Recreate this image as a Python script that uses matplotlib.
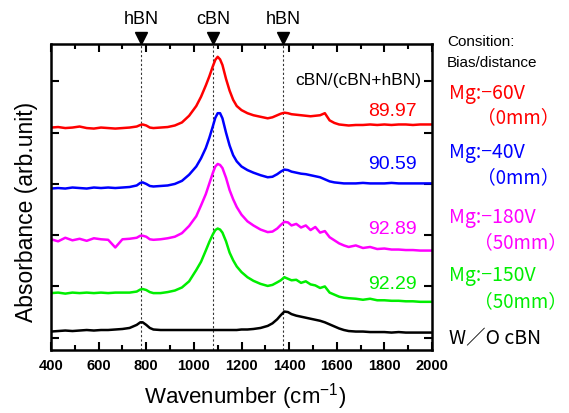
import matplotlib
matplotlib.use('Agg')
import matplotlib.pyplot as plt
import matplotlib.transforms as mtransforms
from matplotlib.ticker import MultipleLocator

plt.rcParams['font.family'] = ['Liberation Sans', 'DejaVu Sans']
plt.rcParams['mathtext.default'] = 'regular'

# wavenumber grid (cm-1) shared by all spectra
wavenumber = [400, 430, 460, 490, 520, 550, 580, 610, 640, 670, 700, 730, 760,
              775, 785, 800, 815, 830, 860, 890, 920, 950, 980,
              1010, 1030, 1050, 1065, 1080, 1090, 1100, 1110, 1120, 1135, 1150, 1165, 1180,
              1200, 1225, 1250, 1280, 1310, 1330, 1350, 1365, 1380, 1395,
              1410, 1430, 1450, 1470, 1490, 1510, 1530, 1550, 1570, 1590, 1610, 1630, 1650,
              1680, 1710, 1740, 1770, 1800, 1830, 1860, 1890, 1920, 1950, 1980, 2000]

# offset absorbance
red = [4.10, 4.11, 4.09, 4.10, 4.12, 4.09, 4.08, 4.10, 4.09, 4.08, 4.09, 4.10, 4.12,
       4.15, 4.16, 4.14, 4.10, 4.09, 4.10, 4.11, 4.14, 4.20, 4.33,
       4.52, 4.70, 4.92, 5.10, 5.30, 5.42, 5.48, 5.43, 5.32, 5.05, 4.82, 4.64, 4.52,
       4.44, 4.38, 4.34, 4.31, 4.28, 4.30, 4.34, 4.37, 4.39, 4.38,
       4.36, 4.35, 4.34, 4.33, 4.32, 4.33, 4.34, 4.38, 4.24, 4.19, 4.16, 4.15, 4.14,
       4.15, 4.15, 4.16, 4.15, 4.16, 4.15, 4.16, 4.16, 4.15, 4.16, 4.16, 4.16]
blue = [2.91, 2.92, 2.91, 2.93, 2.92, 2.91, 2.93, 2.92, 2.93, 2.92, 2.93, 2.94, 2.97,
        3.02, 3.03, 3.00, 2.96, 2.95, 2.96, 2.97, 3.00, 3.06, 3.18,
        3.34, 3.50, 3.70, 3.90, 4.13, 4.29, 4.38, 4.38, 4.28, 4.00, 3.75, 3.56, 3.44,
        3.34, 3.27, 3.22, 3.17, 3.13, 3.14, 3.19, 3.24, 3.28, 3.27,
        3.24, 3.22, 3.20, 3.19, 3.17, 3.15, 3.13, 3.09, 3.05, 3.03, 3.02, 3.01, 3.01,
        3.01, 3.02, 3.01, 3.01, 3.01, 3.02, 3.01, 3.01, 3.01, 3.01, 3.01, 3.01]
magenta = [1.92, 1.88, 1.95, 1.90, 1.93, 1.89, 1.94, 1.92, 1.91, 1.76, 1.92, 1.93, 1.95,
           1.99, 1.99, 1.97, 1.92, 1.91, 1.92, 1.94, 1.97, 2.04, 2.18,
           2.37, 2.58, 2.80, 3.01, 3.22, 3.34, 3.39, 3.37, 3.31, 3.12, 2.88, 2.70, 2.55,
           2.40, 2.27, 2.19, 2.11, 2.06, 2.07, 2.13, 2.20, 2.26, 2.25,
           2.19, 2.22, 2.15, 2.19, 2.10, 2.16, 2.05, 2.08, 1.96, 1.90, 1.84, 1.80, 1.77,
           1.80, 1.75, 1.77, 1.73, 1.74, 1.72, 1.72, 1.71, 1.71, 1.70, 1.70, 1.70]
green = [0.87, 0.88, 0.86, 0.88, 0.87, 0.88, 0.87, 0.88, 0.87, 0.88, 0.88, 0.88, 0.90,
         0.94, 0.95, 0.93, 0.89, 0.87, 0.87, 0.89, 0.92, 0.98, 1.10,
         1.32, 1.48, 1.70, 1.87, 2.02, 2.10, 2.13, 2.11, 2.05, 1.88, 1.66, 1.51, 1.39,
         1.28, 1.18, 1.11, 1.05, 1.01, 1.03, 1.08, 1.12, 1.18, 1.15,
         1.12, 1.13, 1.07, 1.10, 1.04, 1.02, 0.97, 1.00, 0.88, 0.84, 0.80, 0.78, 0.77,
         0.76, 0.74, 0.76, 0.73, 0.73, 0.72, 0.72, 0.71, 0.71, 0.70, 0.70, 0.70]
black = [0.12, 0.13, 0.14, 0.13, 0.14, 0.15, 0.14, 0.15, 0.15, 0.16, 0.17, 0.19, 0.25,
         0.30, 0.30, 0.25, 0.19, 0.16, 0.15, 0.15, 0.15, 0.15, 0.15,
         0.15, 0.15, 0.15, 0.15, 0.15, 0.15, 0.15, 0.15, 0.15, 0.15, 0.15, 0.15, 0.15,
         0.16, 0.16, 0.17, 0.19, 0.23, 0.28, 0.36, 0.44, 0.51, 0.50,
         0.46, 0.43, 0.41, 0.39, 0.37, 0.35, 0.33, 0.30, 0.26, 0.22, 0.18, 0.15, 0.13,
         0.12, 0.12, 0.11, 0.11, 0.11, 0.10, 0.11, 0.10, 0.10, 0.10, 0.10, 0.10]

series = [red, blue, magenta, green, black]
colors = ['#ff0000', '#0000ff', '#ff00ff', '#00ee00', '#000000']
ratios = ['89.97', '90.59', '92.89', '92.29']
ratio_y = [111, 165, 230, 285]
conditions = ['Mg:\u221260V', 'Mg:\u221240V', 'Mg:\u2212180V', 'Mg:\u2212150V']
distances = ['\uff080mm\uff09', '\uff080mm\uff09', '\uff0850mm\uff09', '\uff0850mm\uff09']
cond_y = [94, 153, 218, 276]
dist_y = [118, 178, 243, 302]
dist_right = [559, 559, 567, 567]

peak_pos = [780, 1080, 1375]
peak_names = ['hBN', 'cBN', 'hBN']

W, H = 569, 414
fig = plt.figure(figsize=(W / 100, H / 100), dpi=100)
ax = fig.add_axes([51 / W, 1 - 351 / H, 381 / W, 306 / H])

for x in peak_pos:
    ax.axvline(x, color='#333333', lw=0.8, ls=(0, (2, 2)), zorder=1)

for y, c in zip(series, colors):
    ax.plot(wavenumber, y, color=c, lw=1.8, zorder=2)

ax.set_xlim(400, 2000)
ax.set_ylim(-0.24, 5.73)
ax.xaxis.set_major_locator(MultipleLocator(200))
ax.xaxis.set_minor_locator(MultipleLocator(100))
ax.set_yticks(range(6))
ax.set_yticklabels([])
ax.tick_params(which='both', direction='in', top=True, right=True, width=1.5)
ax.tick_params(which='major', length=6)
ax.tick_params(which='minor', length=3.5)
ax.tick_params(axis='x', pad=6, labelsize=10.5)
for lab in ax.get_xticklabels():
    lab.set_fontweight('bold')
for s in ax.spines.values():
    s.set_linewidth(1.8)

# markers above the frame
trans = mtransforms.blended_transform_factory(ax.transData, ax.transAxes)
for x, name in zip(peak_pos, peak_names):
    ax.plot([x], [1.021], marker='v', color='black', markersize=9,
            transform=trans, clip_on=False)
    ax.text(x, 1.082, name, transform=trans, ha='center', va='center', fontsize=13)

def ftext(px, py, s, **kw):
    fig.text(px / W, 1 - py / H, s, va='center', **kw)

ftext(245, 397, 'Wavenumber (cm$^{-1}$)', ha='center', fontsize=16)
ftext(27, 212, 'Absorbance (arb.unit)', ha='center', rotation=90, fontsize=16.5)

ftext(421, 80, 'cBN/(cBN+hBN)', ha='right', fontsize=12.5)
for r, py, c in zip(ratios, ratio_y, colors):
    ftext(417, py, r, ha='right', fontsize=14, color=c)

ftext(447, 42, 'Consition:', ha='left', fontsize=11)
ftext(447, 63, 'Bias/distance', ha='left', fontsize=11)
cjk = ['Noto Sans CJK JP', 'DejaVu Sans']
for t, d, cy, dy, dx, c in zip(conditions, distances, cond_y, dist_y, dist_right, colors):
    ftext(449, cy, t, ha='left', fontsize=14, color=c, family=cjk)
    ftext(dx, dy, d, ha='right', fontsize=13.5, color=c, family=cjk)
ftext(449, 339, 'W\uff0fO cBN', ha='left', fontsize=14, color='black', family=cjk)

fig.savefig('out.png', dpi=100)
plt.close(fig)
